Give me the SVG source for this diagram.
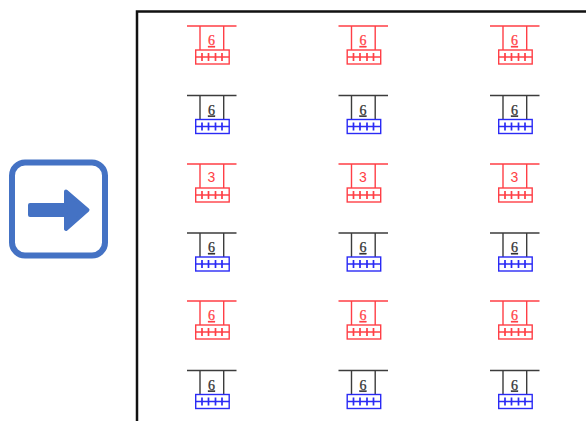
<svg xmlns="http://www.w3.org/2000/svg" width="586" height="421" viewBox="0 0 586 421">
<style>
.r{color:#ff3f46}
.b{color:#3c3c3c}
.bb{color:#2a2af5}
.s{fill:none;stroke:currentColor;stroke-width:1.4}
.l{font-family:"Liberation Serif",serif;font-size:14px;text-anchor:middle;text-decoration:underline;stroke:currentColor;stroke-width:.25}
.t{font-family:"Liberation Sans",sans-serif;font-size:14px;text-anchor:middle}
.lr{fill:#ff3f46;color:#ff3f46}
.lb{fill:#333;color:#333}
</style>
<defs>
<g id="top" class="s"><path d="M187 26H236.500M200 26V50M223.700 26V50"/></g>
<g id="box" class="s"><rect x="195.700" y="50" width="33.500" height="14"/><path d="M195.700 57H229.200"/><path d="M202 53V61M208.500 53V61M215.500 53V61M222 53V61" stroke-width="1.700"/></g>
</defs>
<rect width="586" height="421" fill="#fff"/>
<g id="frame"><path d="M137 421V11.500H586" fill="none" stroke="#111" stroke-width="2.500"/></g>
<g id="arrow-icon">
<rect x="12" y="162.500" width="93" height="93" rx="13" fill="none" stroke="#4472c4" stroke-width="6"/>
<path d="M30 205H66V191.500L87.500 210L66 229V215H30Z" fill="#4472c4" stroke="#4472c4" stroke-width="4" stroke-linejoin="round"/>
</g>
<g id="n11" class="r"><use href="#top"/><use href="#box"/><text class="l lr" x="211.500" y="45">6</text></g>
<g id="n12" class="r" transform="translate(151.500 0)"><use href="#top"/><use href="#box"/><text class="l lr" x="211.500" y="45">6</text></g>
<g id="n13" class="r" transform="translate(303 0)"><use href="#top"/><use href="#box"/><text class="l lr" x="211.500" y="45">6</text></g>
<g id="n21" transform="translate(0 69.500)"><use href="#top" class="b"/><use href="#box" class="bb"/><text class="l lb" x="211.500" y="45">6</text></g>
<g id="n22" transform="translate(151.500 69.500)"><use href="#top" class="b"/><use href="#box" class="bb"/><text class="l lb" x="211.500" y="45">6</text></g>
<g id="n23" transform="translate(303 69.500)"><use href="#top" class="b"/><use href="#box" class="bb"/><text class="l lb" x="211.500" y="45">6</text></g>
<g id="n31" class="r" transform="translate(0 138)"><use href="#top"/><use href="#box"/><text class="t lr" x="211.500" y="44">3</text></g>
<g id="n32" class="r" transform="translate(151.500 138)"><use href="#top"/><use href="#box"/><text class="t lr" x="211.500" y="44">3</text></g>
<g id="n33" class="r" transform="translate(303 138)"><use href="#top"/><use href="#box"/><text class="t lr" x="211.500" y="44">3</text></g>
<g id="n41" transform="translate(0 207)"><use href="#top" class="b"/><use href="#box" class="bb"/><text class="l lb" x="211.500" y="45">6</text></g>
<g id="n42" transform="translate(151.500 207)"><use href="#top" class="b"/><use href="#box" class="bb"/><text class="l lb" x="211.500" y="45">6</text></g>
<g id="n43" transform="translate(303 207)"><use href="#top" class="b"/><use href="#box" class="bb"/><text class="l lb" x="211.500" y="45">6</text></g>
<g id="n51" class="r" transform="translate(0 275)"><use href="#top"/><use href="#box"/><text class="l lr" x="211.500" y="45">6</text></g>
<g id="n52" class="r" transform="translate(151.500 275)"><use href="#top"/><use href="#box"/><text class="l lr" x="211.500" y="45">6</text></g>
<g id="n53" class="r" transform="translate(303 275)"><use href="#top"/><use href="#box"/><text class="l lr" x="211.500" y="45">6</text></g>
<g id="n61" transform="translate(0 344.500)"><use href="#top" class="b"/><use href="#box" class="bb"/><text class="l lb" x="211.500" y="45">6</text></g>
<g id="n62" transform="translate(151.500 344.500)"><use href="#top" class="b"/><use href="#box" class="bb"/><text class="l lb" x="211.500" y="45">6</text></g>
<g id="n63" transform="translate(303 344.500)"><use href="#top" class="b"/><use href="#box" class="bb"/><text class="l lb" x="211.500" y="45">6</text></g>
</svg>
